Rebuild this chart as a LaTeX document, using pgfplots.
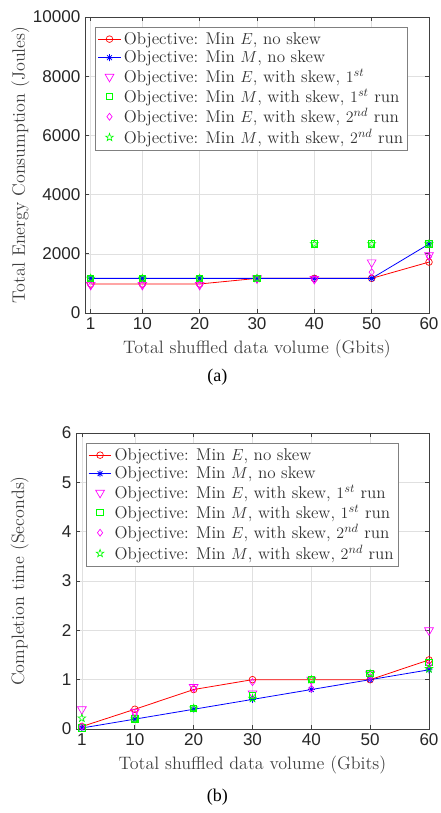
\documentclass[border=0pt]{standalone}
\usepackage{fontspec}
\usepackage{pgfplots}
\pgfplotsset{compat=1.18}
\usetikzlibrary{plotmarks}
\newfontfamily\ticksf{Liberation Sans}
\newfontfamily\capserif{Liberation Serif}
\definecolor{mred}{rgb}{1,0,0}
\definecolor{mblue}{rgb}{0,0,1}
\definecolor{mmag}{rgb}{1,0,1}
\definecolor{mgreen}{rgb}{0,1,0}
\pgfdeclareplotmark{pentagram}{%
  \pgfpathmoveto{\pgfpointpolar{90}{\pgfplotmarksize}}%
  \pgfpathlineto{\pgfpointpolar{126}{0.4\pgfplotmarksize}}%
  \pgfpathlineto{\pgfpointpolar{162}{\pgfplotmarksize}}%
  \pgfpathlineto{\pgfpointpolar{198}{0.4\pgfplotmarksize}}%
  \pgfpathlineto{\pgfpointpolar{234}{\pgfplotmarksize}}%
  \pgfpathlineto{\pgfpointpolar{270}{0.4\pgfplotmarksize}}%
  \pgfpathlineto{\pgfpointpolar{306}{\pgfplotmarksize}}%
  \pgfpathlineto{\pgfpointpolar{342}{0.4\pgfplotmarksize}}%
  \pgfpathlineto{\pgfpointpolar{18}{\pgfplotmarksize}}%
  \pgfpathlineto{\pgfpointpolar{54}{0.4\pgfplotmarksize}}%
  \pgfpathclose\pgfusepathqstroke}
\pgfdeclareplotmark{matast}{%
  \pgfpathmoveto{\pgfqpoint{-\pgfplotmarksize}{0pt}}\pgfpathlineto{\pgfqpoint{\pgfplotmarksize}{0pt}}%
  \pgfpathmoveto{\pgfqpoint{0pt}{-\pgfplotmarksize}}\pgfpathlineto{\pgfqpoint{0pt}{\pgfplotmarksize}}%
  \pgfpathmoveto{\pgfpoint{-0.7\pgfplotmarksize}{-0.7\pgfplotmarksize}}\pgfpathlineto{\pgfpoint{0.7\pgfplotmarksize}{0.7\pgfplotmarksize}}%
  \pgfpathmoveto{\pgfpoint{-0.7\pgfplotmarksize}{0.7\pgfplotmarksize}}\pgfpathlineto{\pgfpoint{0.7\pgfplotmarksize}{-0.7\pgfplotmarksize}}%
  \pgfusepathqstroke}
\pgfdeclareplotmark{msquare}{%
  \pgfpathrectangle{\pgfpoint{-\pgfplotmarksize}{-\pgfplotmarksize}}{\pgfpoint{2\pgfplotmarksize}{2\pgfplotmarksize}}%
  \pgfusepathqstroke}
\pgfplotsset{
  mstyle/.style={
    scale only axis, height=222pt,
    xmin=0, xmax=60, xtick={1,10,20,30,40,50,60},
    grid=major, major grid style={black!12, line width=0.4pt},
    tick align=inside, tick pos=both, major tick length=3pt,
    axis line style={black!75, line width=0.5pt},
    tick style={black!75, line width=0.5pt},
    ticklabel style={font=\ticksf\fontsize{12.8}{15}\selectfont, text=black!85},
    /pgf/number format/assume math mode=true,
    /pgf/number format/1000 sep={},
    scaled y ticks=false,
    label style={font=\fontsize{13.5}{15}\selectfont, text=black!75},
    xlabel style={yshift=-1pt},
    legend cell align=left,
    legend style={font=\fontsize{12.8}{15}\selectfont, draw=black!50, fill=white, line width=0.6pt,
      inner sep=1.5pt, row sep=-0.6pt, text=black!80},
  },
  redl/.style={color=mred, line width=0.6pt, mark=o, mark size=2.5pt, mark options={solid, line width=0.5pt}},
  bluel/.style={color=mblue, line width=0.6pt, mark=matast, mark size=2.6pt, mark options={solid, line width=0.6pt}},
  tri/.style={only marks, color=mmag, mark=triangle, mark size=3.8pt, mark options={rotate=180, line width=0.5pt}},
  sq/.style={only marks, color=mgreen, draw=mgreen, mark=msquare, mark size=2.4pt, mark options={draw=mgreen, line width=0.8pt}},
  dia/.style={only marks, color=mmag, mark=diamond, mark size=2.6pt, mark options={line width=0.5pt}},
  pent/.style={only marks, color=mgreen, mark=pentagram, mark size=3pt, mark options={line width=0.5pt}},
}
\begin{document}
\begin{tikzpicture}
\useasboundingbox (0,0) rectangle (330pt,609.75pt);
% ---------- (a) ----------
\begin{axis}[mstyle, at={(63.75pt,375pt)}, anchor=south west, width=258pt,
  ymin=0, ymax=10000, ytick={0,2000,4000,6000,8000,10000},
  xlabel={Total shuffled data volume (Gbits)},
  ylabel={Total Energy Consumption (Joules)},
  ylabel style={at={(axis description cs:-0.1875,0.5)}, anchor=center},
  legend style={at={(0.03,0.966)}, anchor=north west}]
\addplot[redl] coordinates {(1,980)(10,980)(20,980)(30,1170)(40,1170)(50,1170)(60,1720)};
\addlegendentry{Objective: Min $E$, no skew}
\addplot[bluel] coordinates {(1,1170)(10,1170)(20,1170)(30,1170)(40,1170)(50,1170)(60,2330)};
\addlegendentry{Objective: Min $M$, no skew}
\addplot[tri] coordinates {(1,950)(10,950)(20,950)(30,1170)(40,1150)(50,1710)(60,1950)};
\addlegendentry{Objective: Min $E$, with skew, $1^{st}$}
\addplot[sq] coordinates {(1,1170)(10,1170)(20,1170)(30,1170)(40,2330)(50,2330)(60,2330)};
\addlegendentry{Objective: Min $M$, with skew, $1^{st}$ run}
\addplot[dia] coordinates {(1,930)(10,950)(20,950)(30,1130)(40,1120)(50,1380)(60,1900)};
\addlegendentry{Objective: Min $E$, with skew, $2^{nd}$ run}
\addplot[pent] coordinates {(1,1170)(10,1170)(20,1170)(30,1170)(40,2330)(50,2330)(60,2330)};
\addlegendentry{Objective: Min $M$, with skew, $2^{nd}$ run}
\end{axis}
\node[font=\capserif\fontsize{13.5}{15}\selectfont] at (163pt,327pt) {(a)};
% ---------- (b) ----------
\begin{axis}[mstyle, at={(57pt,63pt)}, anchor=south west, width=264.75pt,
  ymin=0, ymax=6, ytick={0,1,2,3,4,5,6},
  xlabel={Total shuffled data volume (Gbits)},
  ylabel={Completion time (Seconds)},
  ylabel style={at={(axis description cs:-0.16,0.5)}, anchor=center},
  legend style={at={(0.028,0.966)}, anchor=north west}]
\addplot[redl] coordinates {(1,0.05)(10,0.4)(20,0.8)(30,1.0)(40,1.0)(50,1.0)(60,1.4)};
\addlegendentry{Objective: Min $E$, no skew}
\addplot[bluel] coordinates {(1,0.02)(10,0.2)(20,0.4)(30,0.6)(40,0.8)(50,1.0)(60,1.2)};
\addlegendentry{Objective: Min $M$, no skew}
\addplot[tri] coordinates {(1,0.4)(10,0.35)(20,0.85)(30,0.72)(40,1.0)(50,1.12)(60,2.0)};
\addlegendentry{Objective: Min $E$, with skew, $1^{st}$ run}
\addplot[sq] coordinates {(1,0.02)(10,0.2)(20,0.42)(30,0.68)(40,1.0)(50,1.12)(60,1.35)};
\addlegendentry{Objective: Min $M$, with skew, $1^{st}$ run}
\addplot[dia] coordinates {(1,0.05)(10,0.3)(20,0.83)(30,0.95)(40,0.82)(50,1.05)(60,1.3)};
\addlegendentry{Objective: Min $E$, with skew, $2^{nd}$ run}
\addplot[pent] coordinates {(1,0.22)(10,0.2)(20,0.42)(30,0.62)(40,1.0)(50,1.12)(60,1.22)};
\addlegendentry{Objective: Min $M$, with skew, $2^{nd}$ run}
\end{axis}
\node[font=\capserif\fontsize{13.5}{15}\selectfont] at (163pt,12pt) {(b)};
\end{tikzpicture}
\end{document}
